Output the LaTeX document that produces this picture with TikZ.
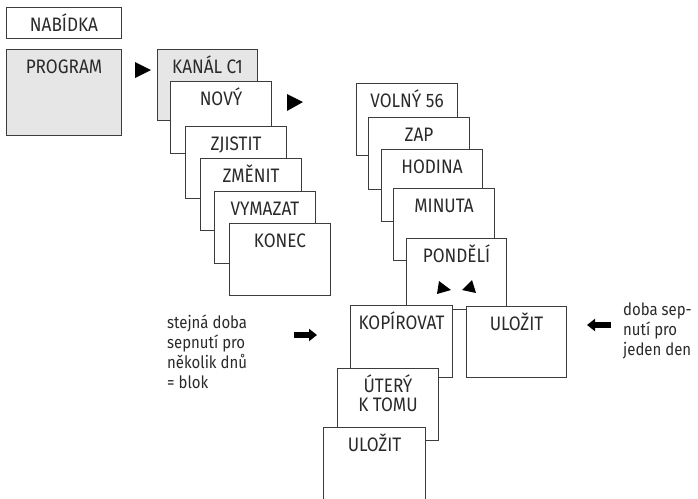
\documentclass[tikz,border=0pt]{standalone}
\usepackage{fontspec}
\setmainfont{Fira Sans}[FakeStretch=0.88]
\usetikzlibrary{arrows.meta}
\definecolor{boxline}{HTML}{3C3C3C}
\definecolor{boxgrey}{HTML}{E6E6E7}
\definecolor{inktext}{HTML}{2A2A2A}

\tikzset{%
  screen/.style={
    rectangle,
    draw=boxline,
    line width=1pt,
    fill=white,
    text=inktext,
    anchor=north west,
    minimum width=101pt,
    inner xsep=0pt,
    inner ysep=10pt,
    text height=14pt,
    text depth=38pt,
    font=\fontsize{19.5}{19}\selectfont
  },
  screen grey/.style={
    screen,
    fill=boxgrey
  },
  note/.style={
    anchor=north west,
    align=left,
    inner sep=0pt,
    text=inktext,
    font=\fontsize{17}{20}\selectfont
  },
  block arrow/.style={
    line width=6pt,
    -{Triangle[length=8pt,width=12pt]}
  },
}

\begin{document}
\begin{tikzpicture}[x=1pt,y=-1pt]
\useasboundingbox (0,0) rectangle (698,498);
\node[screen, minimum width=115pt, text height=18pt, text depth=1pt, inner ysep=6pt] (nabidka) at (6,7) {NABÍDKA};
\node[screen grey, minimum width=115pt, text depth=52pt] (program) at (6,49) {PROGRAM};
\fill[black] (135,62) -- (135,78) -- (151,70) -- cycle;
\node[screen grey, minimum width=100pt, text depth=37pt] (kanal) at (157,49) {KANÁL C1};
\node[screen] (novy) at (170,81) {NOVÝ};
\fill[black] (287,94) -- (287,111) -- (303,102) -- cycle;
\node[screen] (zjistit) at (185,126) {ZJISTIT};
\node[screen] (zmenit) at (200,158) {ZMĚNIT};
\node[screen] (vymazat) at (214,191) {VYMAZAT};
\node[screen] (konec) at (229,223) {KONEC};

\node[screen] (volny) at (356,83) {VOLNÝ 56};
\node[screen] (zap) at (368,117) {ZAP};
\node[screen] (hodina) at (381,149) {HODINA};
\node[screen] (minuta) at (393,188) {MINUTA};
\node[screen, minimum width=100pt, text depth=37pt] (pondeli) at (406,238) {PONDĚLÍ};
\fill[black] (439,281) -- (437,294) -- (451,290) -- cycle;
\fill[black] (472,280) -- (462,290) -- (476,293) -- cycle;
\node[screen, minimum width=102pt] (kopirovat) at (350,305) {KOPÍROVAT};
\node[screen, minimum width=100pt, text depth=37pt] (ulozit den) at (466,306) {ULOŽIT};
\node[screen, align=center, text height=33pt, text depth=19pt] (utery) at (337,368) {ÚTERÝ\\K TOMU};
\node[screen, minimum width=102pt] (ulozit blok) at (323,427) {ULOŽIT};

\node[note] (blok text) at (167,315) {stejná doba\\sepnutí pro\\několik dnů\\= blok};
\node[note] (den text) at (623,303) {doba sep-\\nutí pro\\jeden den};
\coordinate (blok tail) at (294,335);
\coordinate (blok tip) at (317,335);
\coordinate (den tail) at (611,325);
\coordinate (den tip) at (587,325);
\draw[block arrow] (blok tail) -- (blok tip);
\draw[block arrow] (den tail) -- (den tip);
\end{tikzpicture}
\end{document}
